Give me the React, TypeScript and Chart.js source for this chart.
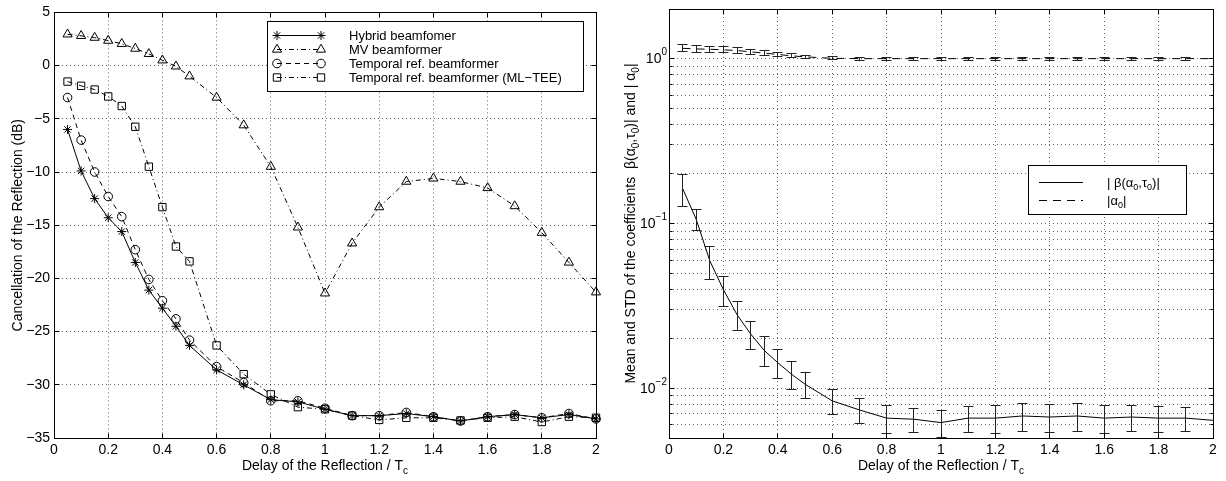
import React, { useEffect, useRef } from 'react';
import { Chart, registerables } from 'chart.js';
import { drawPoint } from 'chart.js/helpers';

Chart.register(...registerables);

const FONT = "'Liberation Sans', Arial, Helvetica, sans-serif";

// ---------- data ----------
const delays = [0.05, 0.1, 0.15, 0.2, 0.25, 0.3, 0.35, 0.4, 0.45, 0.5, 0.6, 0.7, 0.8, 0.9, 1.0, 1.1, 1.2, 1.3, 1.4, 1.5, 1.6, 1.7, 1.8, 1.9, 2.0];

const hybridDb = [-6.0, -9.9, -12.5, -14.3, -15.6, -18.5, -21.1, -22.8, -24.5, -26.3, -28.6, -30.0, -31.4, -31.6, -32.3, -32.9, -32.9, -32.7, -33.0, -33.4, -33.0, -32.8, -33.1, -32.8, -33.2];
const mvDb = [2.94, 2.8, 2.63, 2.35, 2.05, 1.6, 1.1, 0.5, -0.07, -1.0, -3.0, -5.6, -9.5, -15.2, -21.4, -16.7, -13.3, -10.9, -10.6, -10.9, -11.5, -13.2, -15.7, -18.5, -21.3];
const temporalDb = [-3.0, -7.0, -10.0, -12.3, -14.2, -17.3, -20.1, -22.1, -23.8, -25.8, -28.3, -29.8, -31.5, -31.5, -32.2, -32.9, -32.9, -32.6, -33.0, -33.4, -33.0, -32.8, -33.1, -32.7, -33.2];
const mlteeDb = [-1.5, -1.9, -2.25, -2.9, -3.8, -5.75, -9.5, -13.3, -17.0, -18.4, -26.3, -29.0, -30.9, -32.1, -32.3, -32.9, -33.3, -33.1, -33.1, -33.35, -33.1, -33.0, -33.5, -33.0, -33.1];

const betaMean = [0.163, 0.106, 0.0594, 0.0397, 0.028, 0.0214, 0.017, 0.0143, 0.0122, 0.0106, 0.0084, 0.0074, 0.0066, 0.0065, 0.0062, 0.0066, 0.0066, 0.0068, 0.0067, 0.0068, 0.0066, 0.0067, 0.0066, 0.0066, 0.0064];
const betaStd = [0.0365, 0.0154, 0.0136, 0.0083, 0.0057, 0.0042, 0.0035, 0.0029, 0.0024, 0.0019, 0.00145, 0.00125, 0.00126, 0.0011, 0.00115, 0.0012, 0.0013, 0.0013, 0.0013, 0.0013, 0.0013, 0.0012, 0.0012, 0.0011, null];
const alphaMean = [1.155, 1.145, 1.14, 1.13, 1.12, 1.1, 1.08, 1.06, 1.04, 1.025, 1.005, 1.0, 1.0, 1.0, 1.0, 1.0, 1.0, 1.0, 1.0, 1.0, 1.0, 1.0, 1.0, 1.0, 1.0];
const alphaStd = [0.055, 0.053, 0.05, 0.048, 0.045, 0.042, 0.038, 0.034, 0.03, 0.027, 0.022, 0.02, 0.019, 0.019, 0.019, 0.019, 0.019, 0.019, 0.019, 0.019, 0.019, 0.019, 0.019, 0.019, null];

// ---------- ticks ----------
const xTickValues = [0, 0.2, 0.4, 0.6, 0.8, 1, 1.2, 1.4, 1.6, 1.8, 2];
const xTickLabels = ['0', '0.2', '0.4', '0.6', '0.8', '1', '1.2', '1.4', '1.6', '1.8', '2'];
const leftYTickValues = [-35, -30, -25, -20, -15, -10, -5, 0, 5];
const leftYTickLabels = ['−35', '−30', '−25', '−20', '−15', '−10', '−5', '0', '5'];
const rightYTickValues = [0.005, 0.006, 0.007, 0.008, 0.009, 0.01, 0.02, 0.03, 0.04, 0.05, 0.06, 0.07, 0.08, 0.09, 0.1, 0.2, 0.3, 0.4, 0.5, 0.6, 0.7, 0.8, 0.9, 1, 2];
const rightYDecades = [0.01, 0.1, 1];
const rightYExponents = ['−2', '−1', '0'];

// ---------- helpers ----------
type Seg = { t: string; sub?: boolean };
function parseRich(s: string): Seg[] {
  const out: Seg[] = [];
  let buf = '';
  for (let i = 0; i < s.length; i++) {
    if (s[i] === '_' && i + 1 < s.length) {
      if (buf) { out.push({ t: buf }); buf = ''; }
      out.push({ t: s[i + 1], sub: true });
      i++;
    } else buf += s[i];
  }
  if (buf) out.push({ t: buf });
  return out;
}
function drawRich(ctx: CanvasRenderingContext2D, s: string, x: number, y: number, size: number, align: string) {
  const segs = parseRich(s);
  const sub = Math.round(size * 0.72);
  let w = 0;
  for (const g of segs) { ctx.font = `${g.sub ? sub : size}px ${FONT}`; w += ctx.measureText(g.t).width; }
  let cx = align === 'left' ? x : align === 'center' ? x - w / 2 : x - w;
  ctx.textAlign = 'left';
  ctx.textBaseline = 'alphabetic';
  for (const g of segs) {
    ctx.font = `${g.sub ? sub : size}px ${FONT}`;
    ctx.fillText(g.t, cx, g.sub ? y + size * 0.3 : y);
    cx += ctx.measureText(g.t).width;
  }
}
const al = (v: number) => Math.round(v - 0.5) + 0.5;

function framePlugin(cfg: any) {
  return {
    id: 'frame_' + cfg.name,
    afterDraw(chart: any) {
      const ctx: CanvasRenderingContext2D = chart.ctx;
      const a = chart.chartArea;
      const xs = chart.scales.x, ys = chart.scales.y;
      const L = al(a.left), R = al(a.right), T = al(a.top), B = al(a.bottom);
      ctx.save();
      ctx.setLineDash([]);
      ctx.strokeStyle = '#000';
      ctx.lineWidth = 1;
      const seg = (x1: number, y1: number, x2: number, y2: number) => { ctx.beginPath(); ctx.moveTo(x1, y1); ctx.lineTo(x2, y2); ctx.stroke(); };
      xs.ticks.forEach((t: any) => {
        const x = al(xs.getPixelForValue(t.value));
        seg(x, B, x, B - 5); seg(x, T, x, T + 5);
      });
      ys.ticks.forEach((t: any) => {
        const y = al(ys.getPixelForValue(t.value));
        const len = cfg.isMajorY(t.value) ? 5 : 3;
        seg(L, y, L + len, y); seg(R, y, R - len, y);
      });
      ctx.strokeRect(L, T, R - L, B - T);

      ctx.fillStyle = '#000';
      // log tick labels (10 with superscript exponent)
      if (cfg.logLabels) {
        rightYDecades.forEach((v, i) => {
          const y = ys.getPixelForValue(v);
          ctx.font = `10px ${FONT}`;
          const eW = ctx.measureText(rightYExponents[i]).width;
          ctx.font = `14px ${FONT}`;
          const bW = ctx.measureText('10').width;
          const right = a.left - 2;
          ctx.textAlign = 'left';
          ctx.textBaseline = 'middle';
          ctx.fillText('10', right - eW - bW, y + 1);
          ctx.font = `10px ${FONT}`;
          ctx.fillText(rightYExponents[i], right - eW, y - 6);
        });
      }
      // axis titles
      drawRich(ctx, cfg.xTitle, (a.left + a.right) / 2, cfg.xTitleY, 14, 'center');
      ctx.save();
      ctx.translate(cfg.yTitleX, (a.top + a.bottom) / 2);
      ctx.rotate(-Math.PI / 2);
      drawRich(ctx, cfg.yTitle, 0, 0, 14, 'center');
      ctx.restore();

      // legend
      const lg = cfg.legend;
      ctx.fillStyle = '#fff';
      ctx.fillRect(lg.box[0], lg.box[1], lg.box[2] - lg.box[0], lg.box[3] - lg.box[1]);
      ctx.strokeStyle = '#000';
      ctx.lineWidth = 1;
      ctx.strokeRect(al(lg.box[0]), al(lg.box[1]), Math.round(lg.box[2] - lg.box[0]), Math.round(lg.box[3] - lg.box[1]));
      chart.data.datasets.forEach((ds: any, i: number) => {
        const y = lg.rowY0 + i * lg.rowDy;
        ctx.save();
        ctx.strokeStyle = ds.borderColor;
        ctx.lineWidth = ds.borderWidth;
        ctx.setLineDash(ds.borderDash || []);
        seg(lg.lineX[0], al(y), lg.lineX[1], al(y));
        ctx.setLineDash([]);
        if (ds.pointRadius > 0) {
          ctx.fillStyle = 'rgba(0,0,0,0)';
          const o = { pointStyle: ds.pointStyle, radius: ds.pointRadius, borderWidth: 1, rotation: 0 };
          drawPoint(ctx, o as any, lg.lineX[0], y);
          drawPoint(ctx, o as any, lg.lineX[1], y);
        }
        ctx.restore();
        ctx.fillStyle = '#000';
        drawRich(ctx, ds.label, lg.textX, y + 4.5, 13, 'left');
      });
      ctx.restore();
    },
  };
}

const errorBarPlugin = {
  id: 'errorBars',
  afterDatasetsDraw(chart: any) {
    const ctx: CanvasRenderingContext2D = chart.ctx;
    const xs = chart.scales.x, ys = chart.scales.y;
    chart.data.datasets.forEach((ds: any) => {
      if (!ds.errors) return;
      ctx.save();
      ctx.setLineDash([]);
      ctx.strokeStyle = '#222';
      ctx.lineWidth = 1;
      ds.data.forEach((p: any, i: number) => {
        const e = ds.errors[i];
        if (e == null) return;
        const px = al(xs.getPixelForValue(p.x));
        const yt = al(ys.getPixelForValue(p.y + e));
        const yb = al(ys.getPixelForValue(p.y - e));
        ctx.beginPath();
        ctx.moveTo(px, yt); ctx.lineTo(px, yb);
        ctx.moveTo(px - 5, yt); ctx.lineTo(px + 5, yt);
        ctx.moveTo(px - 5, yb); ctx.lineTo(px + 5, yb);
        ctx.stroke();
      });
      ctx.restore();
    });
  },
};

const gridOpts = { color: 'rgba(0,0,0,0.6)', lineWidth: 1, drawTicks: false };
const borderOpts = { display: false, dash: [1, 3] };
const tickFont = { family: FONT, size: 14 };

function xScale() {
  return {
    type: 'linear', min: 0, max: 2,
    afterBuildTicks: (s: any) => { s.ticks = xTickValues.map((v) => ({ value: v })); },
    ticks: { color: '#000', font: tickFont, padding: 4, maxRotation: 0, autoSkip: false, callback: (_v: any, i: number) => xTickLabels[i] },
    grid: gridOpts, border: borderOpts,
    afterFit: (s: any) => { s.height = 43; },
  };
}

function leftConfig(): any {
  const pts = (arr: number[]) => delays.map((x, i) => ({ x, y: arr[i] }));
  const base = { borderColor: '#000', borderWidth: 1, pointBorderColor: '#000', pointBackgroundColor: 'rgba(0,0,0,0)', pointBorderWidth: 1, tension: 0, clip: false, fill: false };
  return {
    type: 'line',
    data: {
      datasets: [
        { ...base, label: 'Hybrid beamfomer', data: pts(hybridDb), pointStyle: 'star', pointRadius: 4.5, borderDash: [] },
        { ...base, label: 'MV beamformer', data: pts(mvDb), pointStyle: 'triangle', pointRadius: 5.3, borderDash: [5, 3, 1, 3] },
        { ...base, label: 'Temporal ref. beamformer', data: pts(temporalDb), pointStyle: 'circle', pointRadius: 4.3, borderDash: [5, 4] },
        { ...base, label: 'Temporal ref. beamformer (ML−TEE)', data: pts(mlteeDb), pointStyle: 'rect', pointRadius: 5.2, borderDash: [5, 3, 1, 3] },
      ],
    },
    options: {
      animation: false, responsive: false, events: [],
      layout: { padding: { top: 10, right: 9, left: 0, bottom: 0 } },
      plugins: { legend: { display: false }, tooltip: { enabled: false } },
      scales: {
        x: xScale(),
        y: {
          type: 'linear', min: -35, max: 5,
          afterBuildTicks: (s: any) => { s.ticks = leftYTickValues.map((v) => ({ value: v })); },
          ticks: { color: '#000', font: tickFont, padding: 4, autoSkip: false, callback: (_v: any, i: number) => leftYTickLabels[i] },
          grid: gridOpts, border: borderOpts,
          afterFit: (s: any) => { s.width = 54; },
        },
      },
    },
    plugins: [framePlugin({
      name: 'left',
      isMajorY: () => true,
      xTitle: 'Delay of the Reflection / T_c', xTitleY: 470,
      yTitle: 'Cancellation of the Reflection (dB)', yTitleX: 22,
      legend: { box: [267, 21, 583, 91], lineX: [277, 321], textX: 349, rowY0: 35.5, rowDy: 14 },
    })],
  };
}

function rightConfig(): any {
  const pts = (arr: number[]) => delays.map((x, i) => ({ x, y: arr[i] }));
  return {
    type: 'line',
    data: {
      datasets: [
        { label: '| β(α_0,τ_0)|', data: pts(betaMean), errors: betaStd, borderColor: '#000', borderWidth: 1, pointRadius: 0, borderDash: [], tension: 0, fill: false },
        { label: '|α_0|', data: pts(alphaMean), errors: alphaStd, borderColor: '#000', borderWidth: 1, pointRadius: 0, borderDash: [8, 6], tension: 0, fill: false },
      ],
    },
    options: {
      animation: false, responsive: false, events: [],
      layout: { padding: { top: 9, right: 13, left: 0, bottom: 0 } },
      plugins: { legend: { display: false }, tooltip: { enabled: false } },
      scales: {
        x: xScale(),
        y: {
          type: 'logarithmic', min: 0.005, max: 2,
          afterBuildTicks: (s: any) => { s.ticks = rightYTickValues.map((v) => ({ value: v })); },
          ticks: { display: false, autoSkip: false },
          grid: gridOpts, border: borderOpts,
          afterFit: (s: any) => { s.width = 64; },
        },
      },
    },
    plugins: [errorBarPlugin, framePlugin({
      name: 'right',
      isMajorY: (v: number) => rightYDecades.some((d) => Math.abs(d - v) < d * 1e-6),
      logLabels: true,
      xTitle: 'Delay of the Reflection / T_c', xTitleY: 470,
      yTitle: 'Mean and STD of the coefficients  β(α_0,τ_0)| and | α_0|', yTitleX: 30,
      legend: { box: [423, 165, 581, 214], lineX: [434, 478], textX: 502, rowY0: 182, rowDy: 18 },
    })],
  };
}

export default function App() {
  const leftRef = useRef<HTMLCanvasElement>(null);
  const rightRef = useRef<HTMLCanvasElement>(null);
  useEffect(() => {
    const c1 = new Chart(leftRef.current as HTMLCanvasElement, leftConfig());
    const c2 = new Chart(rightRef.current as HTMLCanvasElement, rightConfig());
    return () => { c1.destroy(); c2.destroy(); };
  }, []);
  return (
    <div style={{ position: 'absolute', left: 0, top: 0, width: 1226, height: 481, background: '#fff' }}>
      <canvas ref={leftRef} width={605} height={481} style={{ position: 'absolute', left: 0, top: 0 }} />
      <canvas ref={rightRef} width={621} height={481} style={{ position: 'absolute', left: 605, top: 0 }} />
    </div>
  );
}
